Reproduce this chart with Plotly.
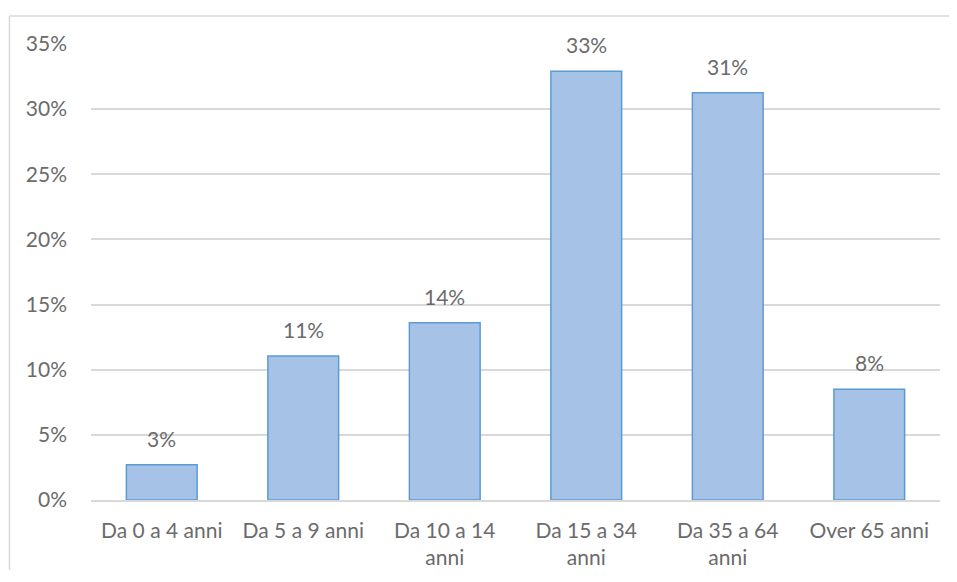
import plotly.graph_objects as go

categories = ["Da 0 a 4 anni", "Da 5 a 9 anni", "Da 10 a 14<br>anni",
              "Da 15 a 34<br>anni", "Da 35 a 64<br>anni", "Over 65 anni"]
values = [2.7, 11.05, 13.6, 32.9, 31.25, 8.5]
labels = ["3%", "11%", "14%", "33%", "31%", "8%"]
y_ticks = [0, 5, 10, 15, 20, 25, 30, 35]
y_tick_text = ["0%", "5%", "10%", "15%", "20%", "25%", "30%", "35%"]

FONT = "Lato, 'Open Sans', sans-serif"
GRAY = "#6b6b6b"

fig = go.Figure()
fig.add_trace(go.Bar(
    x=categories, y=values, width=0.5,
    marker=dict(color="#a6c3e7", line=dict(color="#5b9bd5", width=1.5)),
    hoverinfo="skip",
))

for c, v, t in zip(categories, values, labels):
    fig.add_annotation(x=c, y=v, text=t, showarrow=False, yanchor="bottom",
                       yshift=12, font=dict(family=FONT, size=21, color=GRAY))

# outer chart frame (left and top edges visible in the reference)
fig.add_shape(type="line", xref="paper", yref="paper",
              x0=-0.096, x1=-0.096, y0=-0.16, y1=1.0613,
              line=dict(color="#d9d9d9", width=1.5), layer="below")
fig.add_shape(type="line", xref="paper", yref="paper",
              x0=-0.096, x1=1.0195, y0=1.0613, y1=1.0613,
              line=dict(color="#d9d9d9", width=1.5), layer="below")

fig.update_layout(
    width=941, height=562,
    margin=dict(l=83, r=9, t=36, b=70, autoexpand=False),
    paper_bgcolor="white", plot_bgcolor="white",
    showlegend=False,
    font=dict(family=FONT, size=21, color=GRAY),
    bargap=0.5,
)
fig.update_xaxes(showgrid=False, showline=True, linecolor="#d9d9d9", linewidth=1.5,
                 ticks="", tickfont=dict(family=FONT, size=21, color=GRAY),
                 ticklabelstandoff=11, automargin=False)
fig.update_yaxes(range=[0, 35], tickvals=y_ticks, ticktext=y_tick_text,
                 showgrid=True, gridcolor="#d9d9d9", gridwidth=1.5,
                 zeroline=False, showline=False, ticks="",
                 tickfont=dict(family=FONT, size=21, color=GRAY),
                 ticklabelstandoff=23, automargin=False)

fig.write_html("out.html")
